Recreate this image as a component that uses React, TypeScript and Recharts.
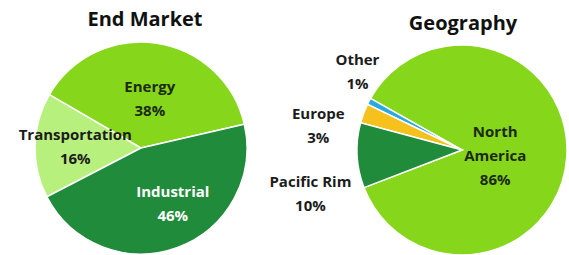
import { PieChart, Pie, Cell } from 'recharts';

// End Market split (%)
const marketNames = ['Energy', 'Transportation', 'Industrial'];
const marketValues = [38, 16, 46];

// Geography split (%)
const geoNames = ['North America', 'Other', 'Europe', 'Pacific Rim'];
const geoValues = [86, 1, 3, 10];

const MARKET_COLORS = ['#86d61c', '#b8f07e', '#1f8b3b'];
const GEO_COLORS = ['#86d61c', '#2aa8e0', '#f6c11c', '#1f8b3b'];

// label placement: polar angle (deg) and radius as a fraction of the outer radius
const MARKET_LABELS = [
  { angle: 80, r: 0.48, fill: '#1c2a10', wrap: false },
  { angle: 178, r: 0.62, fill: '#1c1c1c', wrap: false },
  { angle: 300, r: 0.6, fill: '#ffffff', wrap: false },
];
const GEO_LABELS = [
  { angle: 351, r: 0.32, fill: '#1c2a10', wrap: true },
  { angle: 142.8, r: 1.25, fill: '#1c1c1c', wrap: false },
  { angle: 170, r: 1.39, fill: '#1c1c1c', wrap: false },
  { angle: 195.8, r: 1.5, fill: '#1c1c1c', wrap: false },
];

const FONT = '"Open Sans", Lato, sans-serif';

const marketData = marketNames.map((name, i) => ({ name, value: marketValues[i] }));
const geoData = geoNames.map((name, i) => ({ name, value: geoValues[i] }));

type LabelSpec = { angle: number; r: number; fill: string; wrap: boolean };

function makeLabel(specs: LabelSpec[]) {
  return (props: any) => {
    const { cx, cy, outerRadius, index, name, value } = props;
    const s = specs[index];
    const rad = (s.angle * Math.PI) / 180;
    const x = cx + outerRadius * s.r * Math.cos(rad);
    const y = cy - outerRadius * s.r * Math.sin(rad);
    const lines = s.wrap ? [...String(name).split(' '), `${value}%`] : [String(name), `${value}%`];
    const step = 24;
    const top = y - ((lines.length - 1) * step) / 2;
    return (
      <text
        x={x}
        y={top}
        textAnchor="middle"
        dominantBaseline="central"
        fill={s.fill}
        style={{ fontFamily: FONT, fontWeight: 700, fontSize: 15 }}
      >
        {lines.map((l, i) => (
          <tspan key={i} x={x} y={top + i * step}>
            {l}
          </tspan>
        ))}
      </text>
    );
  };
}

const titleStyle: React.CSSProperties = {
  position: 'absolute',
  fontFamily: FONT,
  fontWeight: 700,
  fontSize: 20,
  color: '#111',
  textAlign: 'center',
  width: 200,
};

export default function App() {
  return (
    <div style={{ position: 'absolute', left: 0, top: 0, width: 569, height: 255, background: '#fff', overflow: 'hidden' }}>
      <div style={{ ...titleStyle, left: 45, top: 5 }}>End Market</div>
      <div style={{ ...titleStyle, left: 363, top: 9 }}>Geography</div>
      <PieChart width={569} height={255} margin={{ top: 0, right: 0, bottom: 0, left: 0 }}>
        <Pie
          data={marketData}
          dataKey="value"
          nameKey="name"
          cx={141}
          cy={148}
          outerRadius={106}
          startAngle={13}
          endAngle={373}
          stroke="#ffffff"
          strokeWidth={1.5}
          label={makeLabel(MARKET_LABELS)}
          labelLine={false}
          isAnimationActive={false}
        >
          {marketData.map((d, i) => (
            <Cell key={d.name} fill={MARKET_COLORS[i]} />
          ))}
        </Pie>
        <Pie
          data={geoData}
          dataKey="value"
          nameKey="name"
          cx={462}
          cy={150}
          outerRadius={105}
          startAngle={-159}
          endAngle={201}
          stroke="#ffffff"
          strokeWidth={1.5}
          label={makeLabel(GEO_LABELS)}
          labelLine={false}
          isAnimationActive={false}
        >
          {geoData.map((d, i) => (
            <Cell key={d.name} fill={GEO_COLORS[i]} />
          ))}
        </Pie>
      </PieChart>
    </div>
  );
}
